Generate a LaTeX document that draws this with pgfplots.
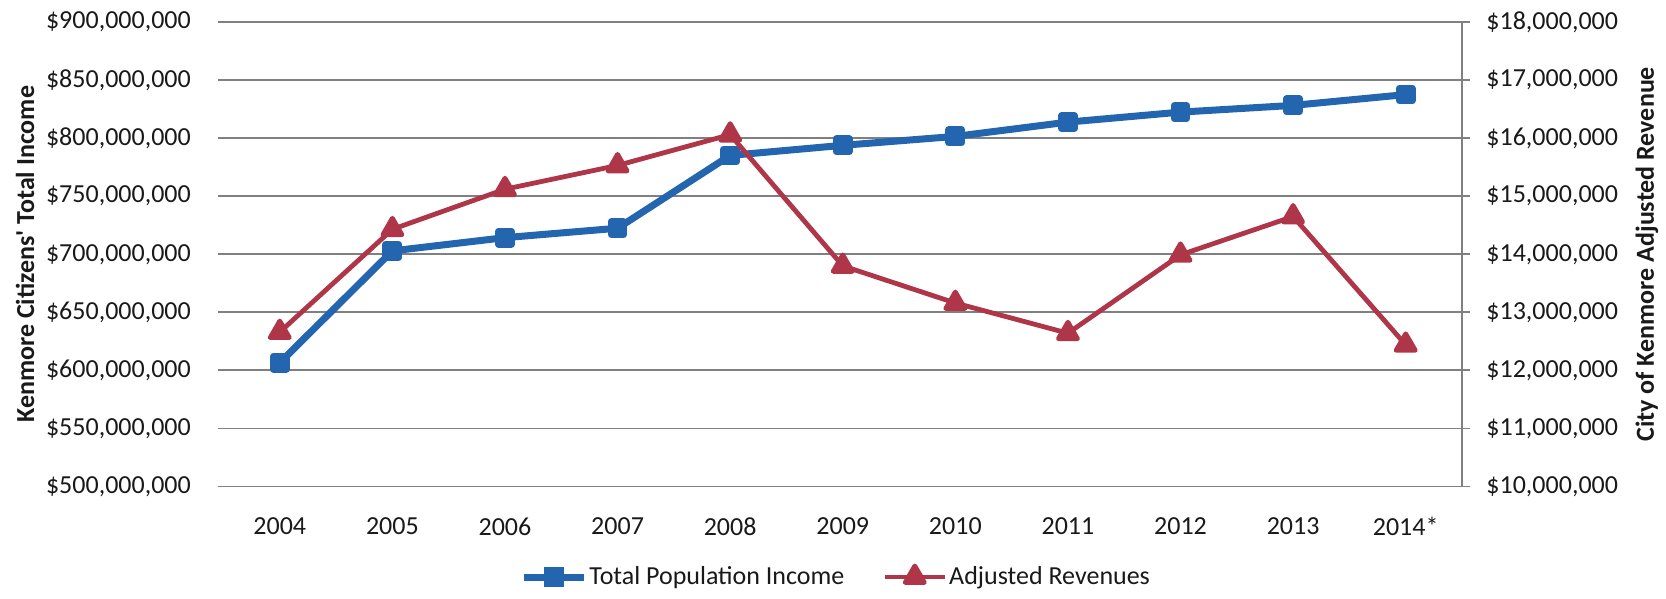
\documentclass[border=0pt]{standalone}
\usepackage{pgfplots}
\pgfplotsset{compat=1.18}
\usepackage{fontspec}
\setmainfont{Carlito}
\definecolor{incblue}{RGB}{36,101,176}
\definecolor{revred}{RGB}{174,54,72}
\definecolor{gridgray}{RGB}{128,128,128}
\definecolor{txt}{RGB}{25,25,25}

\begin{document}
\begin{tikzpicture}
\pgfplotsset{
  base/.style={
    scale only axis, width=619.25pt, height=232.25pt,
    at={(0,0)}, anchor=south west,
    xmin=-0.5, xmax=10.5,
    font=\fontsize{13}{15}\selectfont, text=txt,
    scaled y ticks=false,
    tick align=outside,
    clip=false,
  },
}
% left axis: total income (millions of dollars)
\begin{axis}[base,
  ymin=500, ymax=900,
  ytick={500,550,600,650,700,750,800,850,900},
  yticklabels={{\$500,000,000},{\$550,000,000},{\$600,000,000},{\$650,000,000},{\$700,000,000},{\$750,000,000},{\$800,000,000},{\$850,000,000},{\$900,000,000}},
  ymajorgrids, grid style={gridgray, line width=0.9pt},
  axis x line*=bottom, axis y line*=left,
  x axis line style={-, gridgray, line width=0.9pt},
  y axis line style={draw=none},
  ytick style={gridgray, line width=0.9pt}, major tick length=2.75pt,
  xtick={0,...,10},
  xticklabels={2004,2005,2006,2007,2008,2009,2010,2011,2012,2013,2014*},
  xtick style={draw=none},
  xticklabel style={anchor=center, inner sep=0pt, yshift=-17.25pt},
  yticklabel style={anchor=east, inner sep=0pt, xshift=-13.4pt},
  ylabel={Kenmore Citizens\textquotesingle\ Total Income},
  every axis y label/.style={at={([xshift=-99.25pt]axis description cs:0,0.5)}, rotate=90, anchor=center, font=\fontsize{13}{15}\selectfont\bfseries},
]
\addplot[incblue, line width=3.5pt, line join=round, mark=square*, mark size=3.2pt, mark options={solid}]
  coordinates {(0,606.6)(1,702.9)(2,714.3)(3,722.4)(4,785.1)(5,793.8)(6,801.5)(7,813.8)(8,822.4)(9,828.2)(10,837.5)};
\end{axis}
% right axis: adjusted revenue (millions of dollars)
\begin{axis}[base,
  ymin=10, ymax=18,
  ytick={10,11,12,13,14,15,16,17,18},
  yticklabels={{\$10,000,000},{\$11,000,000},{\$12,000,000},{\$13,000,000},{\$14,000,000},{\$15,000,000},{\$16,000,000},{\$17,000,000},{\$18,000,000}},
  axis y line*=right, axis x line=none, xtick=\empty,
  y axis line style={-, gridgray, line width=0.9pt},
  ytick style={gridgray, line width=0.9pt}, major tick length=4pt,
  yticklabel style={anchor=west, inner sep=0pt, xshift=8pt},
  ylabel={City of Kenmore Adjusted Revenue},
  every axis y label/.style={at={([xshift=92.5pt]axis description cs:1,0.5)}, rotate=90, anchor=center, font=\fontsize{13}{15}\selectfont\bfseries},
  legend columns=2,
  legend image code/.code={\draw[mark repeat=2,mark phase=2] plot coordinates {(0pt,0pt)(15pt,0pt)(30pt,0pt)};},
  legend style={draw=none, fill=none, inner sep=0pt,
    at={([xshift=148.25pt,yshift=-45.25pt]axis description cs:0,0)}, anchor=west,
    font=\fontsize{13}{15}\selectfont,
    nodes={inner sep=1pt},
    /tikz/every even column/.append style={column sep=18pt}},
]
\addlegendimage{incblue, line width=3.5pt, mark=square*, mark size=3.2pt, mark options={solid}}
\addlegendentry{Total Population Income}
\addplot[revred, line width=2.4pt, line join=round, mark=triangle*, mark size=5.5pt, mark options={solid}]
  coordinates {(0,12.66)(1,14.43)(2,15.12)(3,15.53)(4,16.06)(5,13.80)(6,13.16)(7,12.64)(8,13.99)(9,14.65)(10,12.44)};
\addlegendentry{Adjusted Revenues}
\end{axis}
\pgfresetboundingbox
\path[use as bounding box] (-111.75pt,-56.25pt) rectangle (721.25pt,243.25pt);
\end{tikzpicture}
\end{document}
